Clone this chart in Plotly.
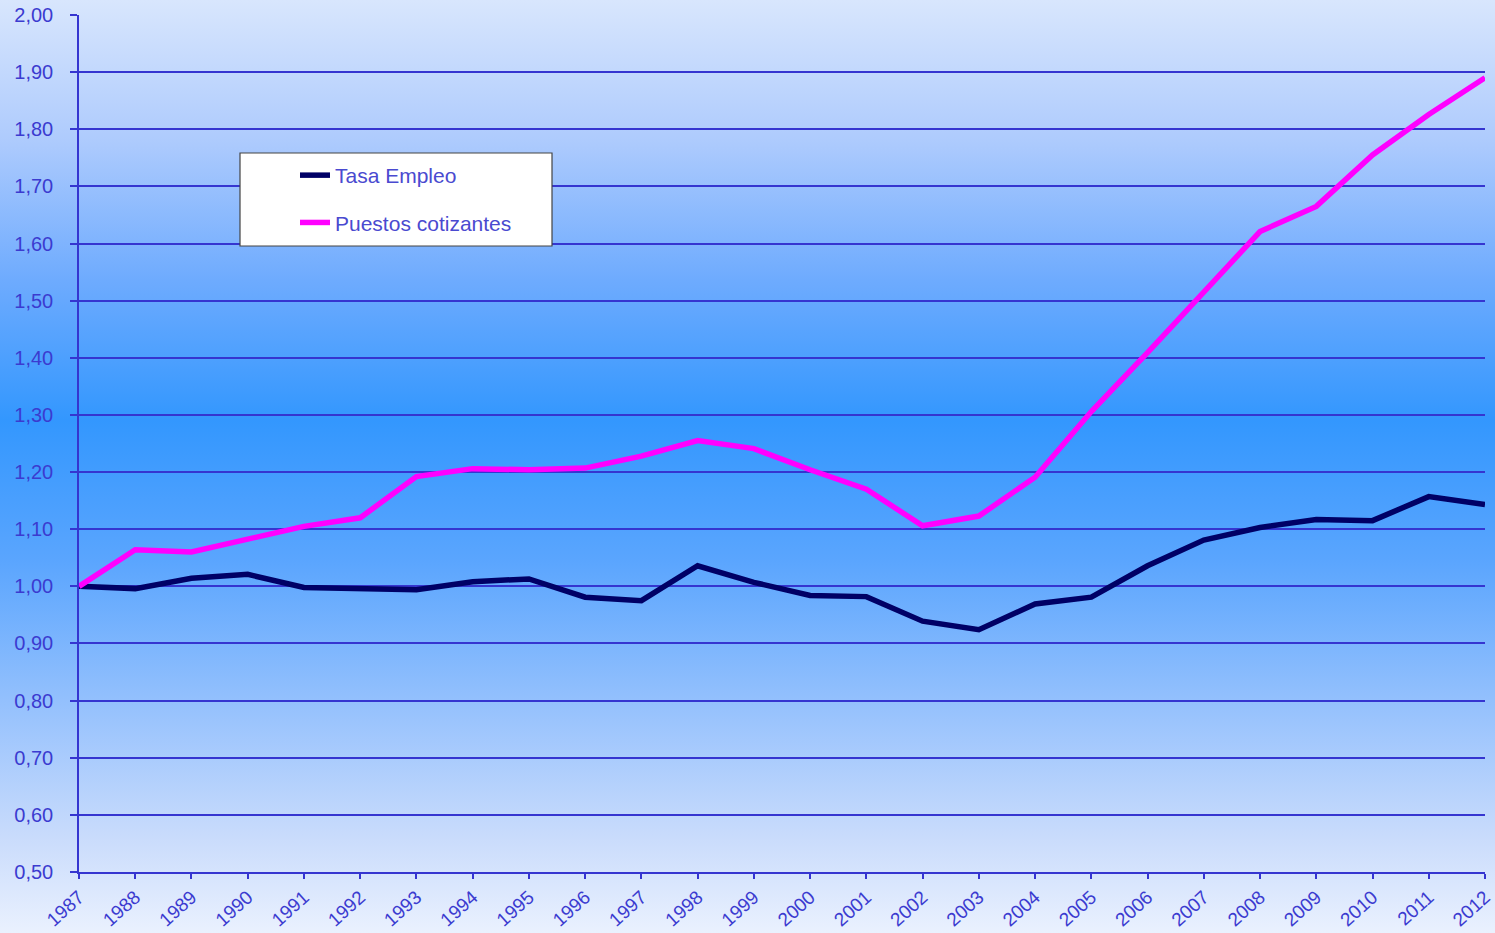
import base64
import plotly.graph_objects as go

years = list(range(1987, 2013))
tasa_empleo = [1.000, 0.996, 1.014, 1.021, 0.998, 0.996, 0.994, 1.008, 1.013,
               0.981, 0.975, 1.036, 1.007, 0.984, 0.982, 0.939, 0.924, 0.969,
               0.981, 1.036, 1.081, 1.103, 1.117, 1.115, 1.157, 1.143]
puestos_cotizantes = [1.000, 1.064, 1.060, 1.082, 1.105, 1.120, 1.192, 1.206, 1.204,
                      1.207, 1.228, 1.255, 1.241, 1.204, 1.170, 1.106, 1.123, 1.191,
                      1.306, 1.409, 1.515, 1.621, 1.665, 1.755, 1.826, 1.890]
series_names = ["Tasa Empleo", "Puestos cotizantes"]
y_ticks = [round(0.5 + 0.1 * i, 2) for i in range(16)]

W, H = 1495, 933
ML, MR, MT, MB = 79, 10, 15, 61
PW, PH = W - ML - MR, H - MT - MB

svg = (
    '<svg xmlns="http://www.w3.org/2000/svg" width="100" height="100" preserveAspectRatio="none">'
    '<defs><linearGradient id="g" x1="0" y1="0" x2="0" y2="1">'
    '<stop offset="0" stop-color="#d8e6fd"/>'
    '<stop offset="0.15" stop-color="#aecbfd"/>'
    '<stop offset="0.30" stop-color="#6eabfe"/>'
    '<stop offset="0.45" stop-color="#3397fe"/>'
    '<stop offset="0.60" stop-color="#5aa5fe"/>'
    '<stop offset="0.75" stop-color="#93c0fd"/>'
    '<stop offset="0.90" stop-color="#cadcfc"/>'
    '<stop offset="1" stop-color="#eaf1fe"/>'
    '</linearGradient></defs>'
    '<rect x="0" y="0" width="100" height="100" fill="url(#g)"/></svg>'
)
src = "data:image/svg+xml;base64," + base64.b64encode(svg.encode()).decode()

FONT = "Liberation Sans, Arial, sans-serif"
grid_color = "#3535d0"

fig = go.Figure()
fig.add_trace(go.Scatter(x=years, y=tasa_empleo, mode="lines", name=series_names[0],
                         legendgroup="a",
                         line=dict(color="#000066", width=5.5)))
fig.add_trace(go.Scatter(x=years, y=puestos_cotizantes, mode="lines", name=series_names[1],
                         legendgroup="b",
                         line=dict(color="#ff00ff", width=5.5)))

def px_x(p):
    return (p - ML) / PW

def px_y(p):
    return (H - MB - p) / PH

fig.update_layout(
    width=W, height=H,
    autosize=False,
    margin=dict(l=ML, r=MR, t=MT, b=MB, pad=0, autoexpand=False),
    separators=",.",
    paper_bgcolor="#8fbdfd",
    plot_bgcolor="rgba(0,0,0,0)",
    images=[dict(source=src, xref="paper", yref="paper",
                 x=px_x(0), y=px_y(0), sizex=W / PW, sizey=H / PH,
                 xanchor="left", yanchor="top", sizing="stretch", layer="below")],
    shapes=[dict(type="rect", xref="paper", yref="paper",
                 x0=px_x(240), x1=px_x(552), y0=px_y(246), y1=px_y(153),
                 fillcolor="white", line=dict(color="#444444", width=1.2), layer="above")],
    showlegend=True,
    legend=dict(x=px_x(295), y=px_y(155), xanchor="left", yanchor="top",
                bgcolor="rgba(0,0,0,0)", borderwidth=0,
                tracegroupgap=17,
                font=dict(family=FONT, size=21, color="#4a4ad0")),
    xaxis=dict(range=[1986.9999, 2012.0001], tickmode="array", tickvals=years,
               ticktext=[str(y) for y in years], tickangle=-42,
               showgrid=False, zeroline=False, automargin=False,
               ticklabeloverflow="allow", ticklabelstandoff=0,
               showline=True, linecolor=grid_color, linewidth=1.5,
               ticks="outside", ticklen=5, tickcolor=grid_color, tickwidth=1.5,
               tickfont=dict(family=FONT, size=19, color="#3b3bd0")),
    yaxis=dict(range=[0.5, 2.0], tickmode="array", tickvals=y_ticks,
               tickformat=".2f", automargin=False,
               ticklabeloverflow="allow", ticklabelstandoff=13,
               showgrid=True, gridcolor=grid_color, gridwidth=1.5, zeroline=False,
               showline=True, linecolor=grid_color, linewidth=1.5,
               ticks="outside", ticklen=7, tickcolor=grid_color, tickwidth=1.5,
               tickfont=dict(family=FONT, size=20, color="#3b3bd0")),
)

fig.write_html("out.html", config={"displayModeBar": False},
               post_script="document.body.style.margin='0';")
